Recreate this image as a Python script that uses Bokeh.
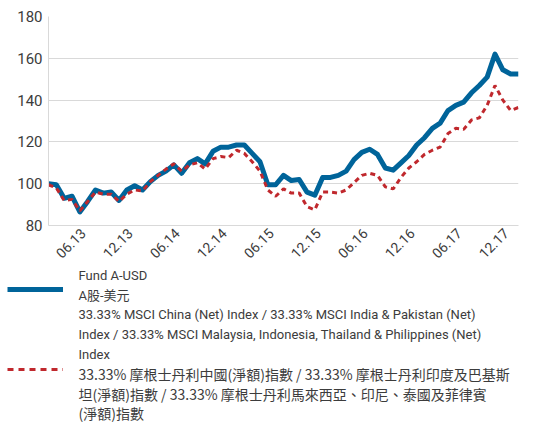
import math
from bokeh.plotting import figure
from bokeh.layouts import column
from bokeh.models import (Range1d, FixedTicker, Label, Legend, LegendItem)
from bokeh.embed import file_html
from bokeh.resources import INLINE

# ---- data (monthly, Mar 2013 .. Mar 2018, rebased to 100) ----
fund = [100, 99.5, 93, 94, 86.5, 91.5, 97, 95.5, 96, 92,
        97, 99, 97, 101, 104, 106, 109, 105, 110, 112,
        109.5, 115.5, 117.5, 117.5, 118.5, 118.5, 114.5, 110.5, 99.5, 99.5,
        104, 101.5, 102, 96, 94.5, 103, 103, 104, 106, 111.5,
        115, 116.5, 114, 107.5, 106.5, 110, 113.5, 118.5, 122, 126.5,
        129, 135, 137.5, 139, 143.5, 147, 151, 162, 154.5, 152.5,
        152.5]
index = [99.5, 98, 92, 92.5, 87, 91.5, 96, 95, 95, 91.5,
         95, 97, 96.5, 101, 104, 107, 109.5, 106, 109, 110,
         107, 112, 113, 112.5, 116, 114.5, 110.5, 106, 97, 94,
         97.5, 95.5, 95.5, 89, 87.5, 96, 96, 95.5, 97, 100.5,
         104, 105, 104, 98.5, 97.5, 103, 107.5, 110.5, 114, 116,
         117.5, 124, 126.5, 126, 130.5, 131.5, 137.5, 147, 140, 135,
         136.5]
months = list(range(len(fund)))
tick_labels = ["06.13", "12.13", "06.14", "12.14", "06.15",
               "12.15", "06.16", "12.16", "06.17", "12.17"]
tick_month = [3 + 6 * i for i in range(len(tick_labels))]
y_ticks = [80, 100, 120, 140, 160, 180]

fund_lines = ["Fund A-USD",
              "A股-美元",
              "33.33% MSCI China (Net) Index / 33.33% MSCI India & Pakistan (Net)",
              "Index / 33.33% MSCI Malaysia, Indonesia, Thailand & Philippines (Net)",
              "Index"]
index_lines = ["33.33% 摩根士丹利中國(淨額)指數 / 33.33% 摩根士丹利印度及巴基斯",
               "坦(淨額)指數 / 33.33% 摩根士丹利馬來西亞、印尼、泰國及菲律賓",
               "(淨額)指數"]

BLUE = "#00649a"
RED = "#c0282d"
TXT = "#3c3c3c"
GRID = "#d9d9d9"
FONT = "Roboto, 'Noto Sans CJK TC', sans-serif"
CJK = "'Noto Sans CJK TC', Roboto, sans-serif"
LABEL_SHIFT = 1.4  # visual placement of rotated month labels

H1 = 266
p = figure(width=555, height=H1, output_backend="svg", toolbar_location=None,
           x_range=Range1d(0, len(fund) - 1), y_range=Range1d(80, 180),
           min_border_left=48, min_border_right=37, min_border_top=16,
           min_border_bottom=40)
p.outline_line_color = None

p.line(months, fund, line_color=BLUE, line_width=5, line_join="round")
p.line(months, index, line_color=RED, line_width=3, line_dash="5 4")

tick_pos = [m + LABEL_SHIFT for m in tick_month]
p.xaxis.ticker = FixedTicker(ticks=tick_pos)
p.xaxis.major_label_overrides = {t: l for t, l in zip(tick_pos, tick_labels)}
p.xaxis.major_label_orientation = math.pi / 4
p.xaxis.major_label_standoff = 5
p.xaxis.major_tick_out = 0
p.xaxis.major_tick_line_color = None
p.xaxis.minor_tick_line_color = None
p.xaxis.axis_line_color = GRID
p.xaxis.major_label_text_font = FONT
p.xaxis.major_label_text_font_size = "14px"
p.xaxis.major_label_text_color = TXT
p.xgrid.grid_line_color = None

p.yaxis.ticker = FixedTicker(ticks=y_ticks)
p.yaxis.major_tick_out = 0
p.yaxis.major_tick_line_color = None
p.yaxis.minor_tick_line_color = None
p.yaxis.axis_line_color = GRID
p.yaxis.major_label_standoff = 6
p.yaxis.major_label_text_font = FONT
p.yaxis.major_label_text_font_size = "15px"
p.yaxis.major_label_text_color = TXT
p.ygrid.grid_line_color = GRID
p.ygrid.ticker = FixedTicker(ticks=y_ticks)

# ---- legend panel ----
H2 = 423 - H1
q = figure(width=555, height=H2, output_backend="svg", toolbar_location=None,
           x_range=Range1d(0, 1), y_range=Range1d(0, 1),
           x_axis_location=None, y_axis_location=None,
           min_border_left=0, min_border_right=0, min_border_top=0,
           min_border_bottom=0)
aligned = True
if "frame_align" in q.properties():
    q.frame_align = False
    aligned = False
q.grid.visible = False
q.outline_line_color = None
# key renderers carry the series but lie outside this panel's range (only their swatch shows)
kb = q.line(months, fund, line_color=BLUE, line_width=5)
kr = q.line(months, index, line_color=RED, line_width=3, line_dash="6 5")

lg = Legend(items=[LegendItem(label=" ", renderers=[kb]),
                   LegendItem(label=" ", renderers=[kr])],
            location=(-41 if aligned else 7, 46), orientation="vertical",
            glyph_width=56, glyph_height=16, label_width=0, label_height=16,
            label_standoff=0, padding=0, margin=0, spacing=64,
            border_line_alpha=0, background_fill_alpha=0,
            inactive_fill_alpha=0, label_text_font_size="1px")
q.add_layout(lg)

pitch = 19.7
top_center = 9
for i, txt in enumerate(fund_lines + index_lines):
    cjk = i >= len(fund_lines)
    q.add_layout(Label(x=78, y=top_center + pitch * i,
                       x_units="canvas", y_units="canvas",
                       text=txt, text_font=CJK if cjk else FONT,
                       text_font_size="14px" if cjk else "13px",
                       text_color=TXT, text_baseline="middle"))

open("out.html", "w").write(file_html(column(p, q), INLINE))
